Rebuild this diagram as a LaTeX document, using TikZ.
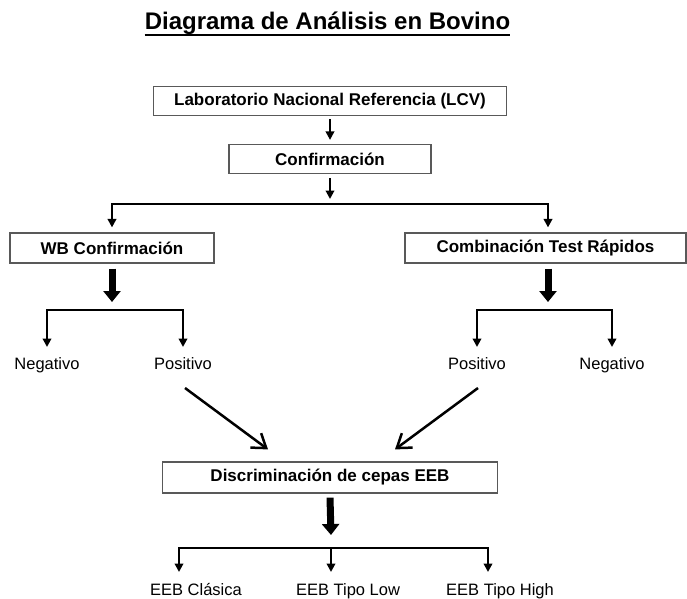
\documentclass[tikz,border=0pt]{standalone}
\usepackage{fontspec}
\setmainfont{Liberation Sans}
\usetikzlibrary{arrows.meta}
\definecolor{boxgray}{HTML}{595959}
\begin{document}
\begin{tikzpicture}[x=1pt,y=-1pt,
  box/.style={draw=boxgray, line width=1.2pt, inner sep=0pt, font=\fontsize{17}{20}\selectfont\bfseries},
  lbl/.style={inner sep=0pt, anchor=base, font=\fontsize{16.5}{19}\selectfont},
  arr/.style={line width=2pt, -{Triangle[length=8.5pt,width=8.5pt]}},
  br/.style={line width=2.3pt, -{Triangle[length=8.5pt,width=8.5pt]}},
  fat/.style={line width=7pt, -{Triangle[length=11pt,width=17pt]}},
  diag/.style={line width=2.5pt, -{Straight Barb[length=13pt,width=18pt]}}]
\useasboundingbox (0,0) rectangle (687,598);

% title
\node[inner sep=0pt, anchor=base, font=\fontsize{24}{28}\selectfont\bfseries] (title) at (327.5,29) {Diagrama de Análisis en Bovino};
\draw[line width=2pt] ([yshift=-6pt]title.base west) -- ([yshift=-6pt]title.base east);

% boxes
\node[box, minimum width=353pt, minimum height=29pt] (lnr) at (330,101) {Laboratorio Nacional Referencia (LCV)};
\node[box, minimum width=202pt, minimum height=29pt] (conf) at (330,159) {Confirmación};
\node[box, minimum width=204pt, minimum height=30pt] (wb) at (112,248) {WB Confirmación};
\node[box, minimum width=281pt, minimum height=30pt] (ctr) at (545.5,248) {Combinación Test Rápidos};
\node[box, minimum width=335pt, minimum height=31pt] (disc) at (330,477.5) {Discriminación de cepas EEB};

% labels
\node[lbl] (neg1) at (47,369) {Negativo};
\node[lbl] (pos1) at (183,369) {Positivo};
\node[lbl] (pos2) at (477,369) {Positivo};
\node[lbl] (neg2) at (612,369) {Negativo};
\node[lbl] (c1) at (196,595) {EEB Clásica};
\node[lbl] (c2) at (348,595) {EEB Tipo Low};
\node[lbl] (c3) at (500,595) {EEB Tipo High};

% junctions
\coordinate (j0) at (330,204);
\coordinate (j1) at (112,310);
\coordinate (j2) at (548,310);
\coordinate (j3) at (331,548);

% connectors
\draw[arr, shorten <=3pt, shorten >=4pt] (lnr) -- (conf);
\draw[arr, shorten <=4pt, shorten >=5pt] (conf) -- (j0);
\draw[br] (j0) -| ([yshift=5pt]wb.north);
\draw[br] (j0) -| ([xshift=2.5pt,yshift=5pt]ctr.north);

\draw[fat] ([yshift=-5pt]wb.south) -- ([yshift=8pt]j1);
\draw[br] (j1) -| ([yshift=22pt]neg1.base);
\draw[br] (j1) -| ([yshift=22pt]pos1.base);

\draw[fat] ([xshift=2.5pt,yshift=-5pt]ctr.south) -- ([yshift=8pt]j2);
\draw[br] (j2) -| ([yshift=22pt]pos2.base);
\draw[br] (j2) -| ([yshift=22pt]neg2.base);

\draw[diag] ([shift={(2,19)}]pos1.base) -- ([shift={(-62,-12)}]disc.north);
\draw[diag] ([shift={(1,19)}]pos2.base) -- ([shift={(65,-12)}]disc.north);

\draw[fat] ([yshift=-4pt]disc.south) -- ([yshift=13pt]j3);
\draw[br] (j3) -| ([shift={(-17,-23)}]c1.base);
\draw[br] (j3) -- ([shift={(-17,-23)}]c2.base);
\draw[br] (j3) -| ([shift={(-12,-23)}]c3.base);
\end{tikzpicture}
\end{document}
